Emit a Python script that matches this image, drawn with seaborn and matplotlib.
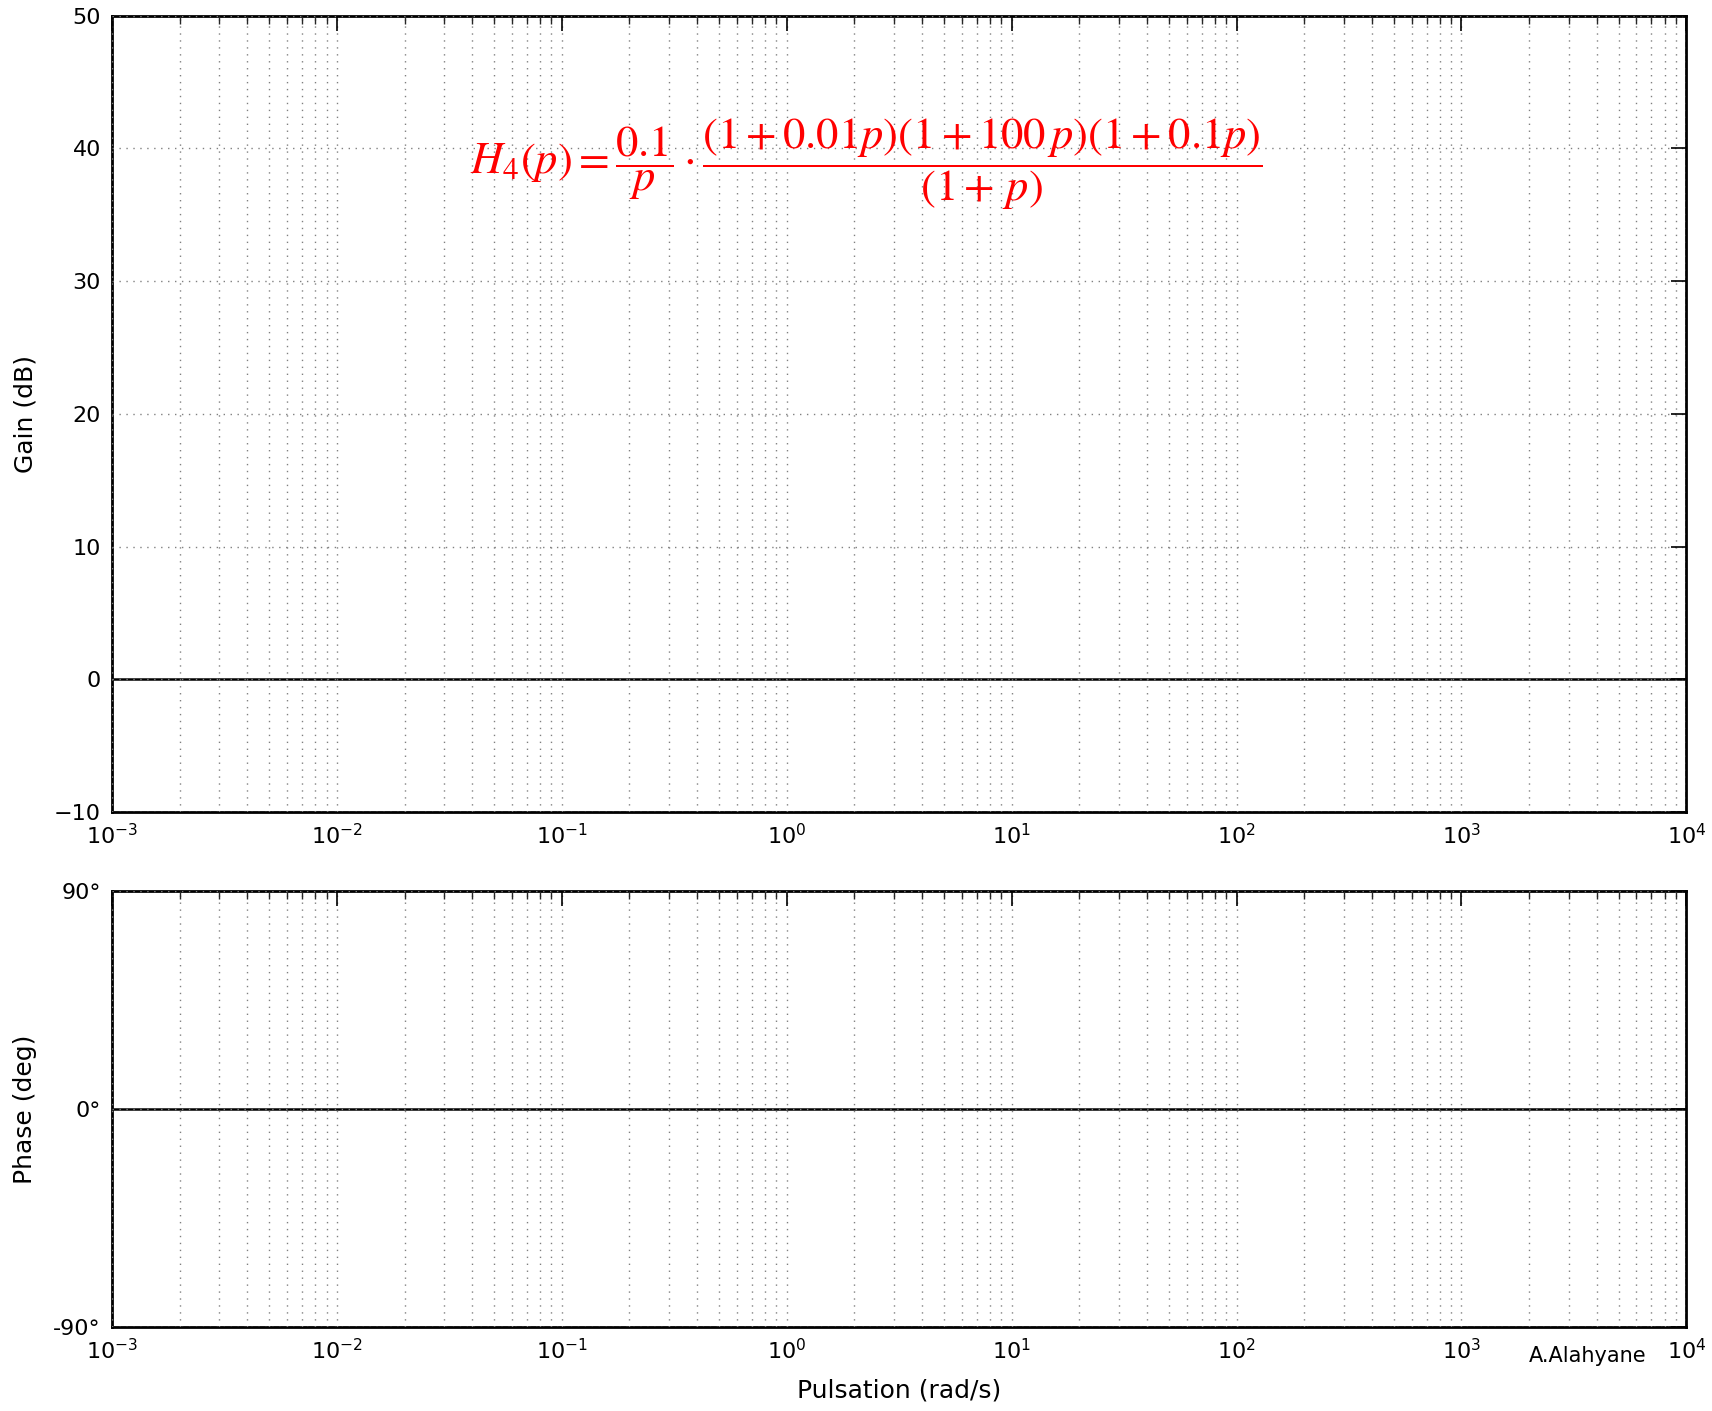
import numpy as np
import pandas as pd
import seaborn as sns
import matplotlib
matplotlib.use("Agg")
import matplotlib.pyplot as plt
from matplotlib.ticker import LogLocator, NullFormatter, FixedLocator

# axis ranges and ticks
omega_range = [1e-3, 1e4]
gain_ticks = [-10, 0, 10, 20, 30, 40, 50]
phase_ticks = [-90, 0, 90]
phase_labels = ['-90°', '0°', '90°']

# the only drawn traces: the 0 dB / 0° reference lines
gain_line = pd.DataFrame({'w': omega_range, 'v': [0, 0]})
phase_line = pd.DataFrame({'w': omega_range, 'v': [0, 0]})

sns.set_style("white")
plt.rcParams['font.family'] = ['DejaVu Sans']
plt.rcParams['mathtext.fontset'] = 'stix'
plt.rcParams['text.color'] = 'black'
plt.rcParams['axes.labelcolor'] = 'black'

fig = plt.figure(figsize=(17.12, 14.11), dpi=100)
ax1 = fig.add_axes([0.0654, 0.4245, 0.9196, 0.5645])
ax2 = fig.add_axes([0.0654, 0.0595, 0.9196, 0.309])

for ax, df in [(ax1, gain_line), (ax2, phase_line)]:
    sns.lineplot(data=df, x='w', y='v', ax=ax, color='black', lw=1.8, zorder=1)
    ax.set_axisbelow(False)
    ax.set_xscale('log')
    ax.set_xlim(omega_range)
    ax.xaxis.set_major_locator(LogLocator(base=10, numticks=20))
    ax.xaxis.set_minor_locator(LogLocator(base=10, subs=np.arange(2, 10), numticks=100))
    ax.xaxis.set_minor_formatter(NullFormatter())
    ax.grid(True, which='both', axis='x', color='gray', linestyle=(0, (1, 4)), lw=1)
    ax.grid(True, which='major', axis='y', color='gray', linestyle=(0, (1, 4)), lw=1)
    ax.tick_params(which='major', direction='in', length=11, width=1.2,
                   top=True, right=True, labelsize=16, pad=8, colors='black')
    ax.tick_params(which='minor', direction='in', length=6, width=1,
                   top=True, right=True)
    for s in ax.spines.values():
        s.set_linewidth(2)
        s.set_color('black')
    ax.set_xlabel('')
    ax.set_ylabel('')

ax1.set_ylim(-10, 50)
ax1.yaxis.set_major_locator(FixedLocator(gain_ticks))
ax1.set_yticklabels(['\u221210' if t == -10 else str(t) for t in gain_ticks])
ax1.set_ylabel('Gain (dB)', fontsize=18, labelpad=12)

ax2.set_ylim(-90, 90)
ax2.set_yticks(phase_ticks)
ax2.set_yticklabels(phase_labels)
ax2.set_ylabel('Phase (deg)', fontsize=18, labelpad=12)
ax2.set_xlabel('Pulsation (rad/s)', fontsize=18, labelpad=11)

fig.text(0.506, 0.884,
         r'$H_4(p)=\dfrac{0.1}{p}\cdot\dfrac{\left(1+0.01p\right)\left(1+100\,p\right)\left(1+0.1p\right)}{\left(1+\,p\right)}$',
         color='red', fontsize=32, ha='center', va='center')
fig.text(0.893, 0.039, 'A.Alahyane', fontsize=15, ha='left', va='center')

fig.savefig('out.png', dpi=100)
